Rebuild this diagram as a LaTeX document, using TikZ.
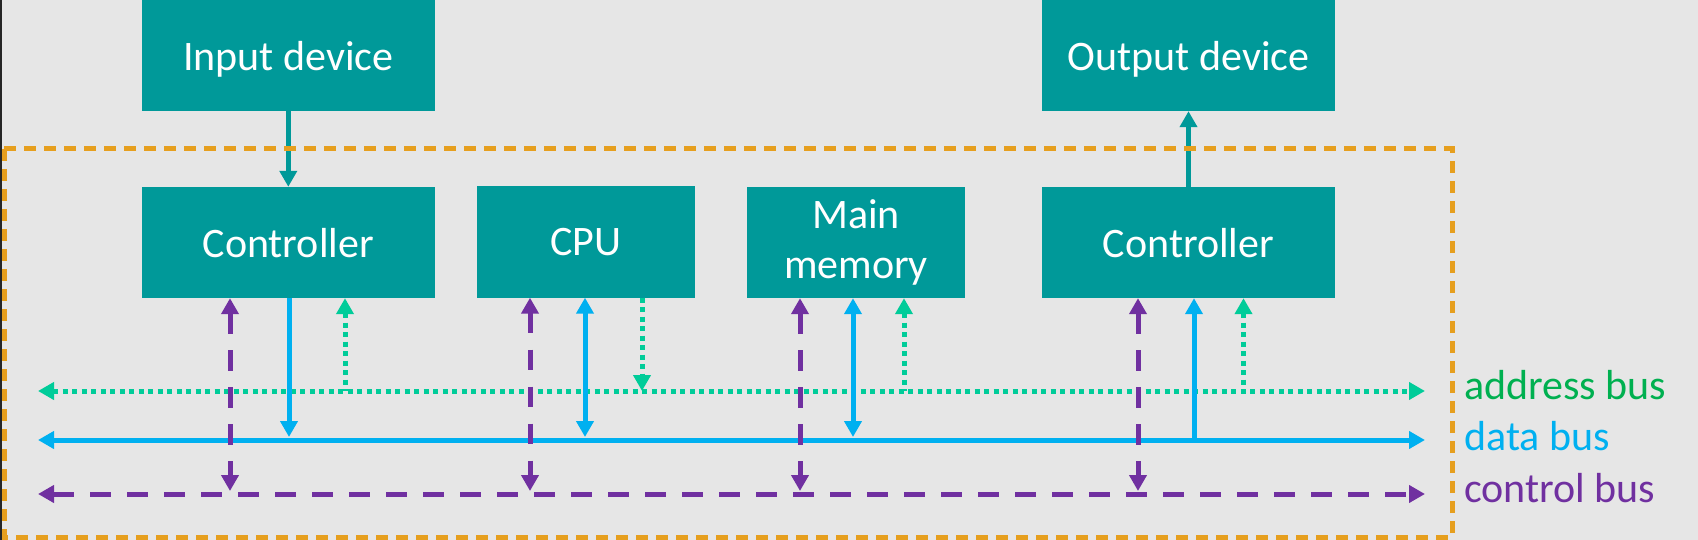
\documentclass[tikz,border=0pt]{standalone}
\usepackage{fontspec}
\setmainfont{Carlito}
\usetikzlibrary{arrows.meta}
\definecolor{boxteal}{RGB}{0,153,153}
\definecolor{backgray}{RGB}{230,230,230}
\definecolor{frameorange}{RGB}{230,159,30}
\definecolor{addrgreen}{RGB}{0,204,153}
\definecolor{addrtext}{RGB}{0,176,80}
\definecolor{datablue}{RGB}{0,176,240}
\definecolor{ctrlpurple}{RGB}{112,48,160}
\begin{document}
\begin{tikzpicture}[x=1pt,y=-1pt,>={Triangle[length=16pt,width=17pt]},
    unit/.style={fill=boxteal,text=white,inner sep=0pt,align=center,
      minimum height=111pt,font=\fontsize{42}{50}\selectfont},
    wide/.style={unit,minimum width=293.5pt,text depth=0pt},
    narrow/.style={unit,minimum width=218pt},
    link/.style={draw=boxteal,line width=5pt,->},
    abus/.style={draw=addrgreen,line width=5pt,dash pattern=on 5pt off 4.5pt},
    dbus/.style={draw=datablue,line width=5pt},
    cbus/.style={draw=ctrlpurple,line width=5pt,dash pattern=on 20.5pt off 16.5pt},
    frame/.style={draw=frameorange,line width=5pt,dash pattern=on 12pt off 8pt},
    buslabel/.style={anchor=base west,inner sep=0pt,font=\fontsize{42}{50}\selectfont}]
  \useasboundingbox (0,0) rectangle (1698,540);
  \fill[backgray] (0,0) rectangle (1698,540);
  \draw[line width=1.5pt,black!85] (0.75,0) -- (0.75,540);

  \draw
    (288.3,55.5) node[wide] (in){Input device}
    (288.3,242.5) node[wide] (ctlA){Controller}
    (586,242) node[narrow] (cpu){CPU}
    (856,242.5) node[narrow] (mem){Main\\memory}
    (1188.5,242.5) node[wide] (ctlB){Controller}
    (1188.5,55.5) node[wide] (out){Output device};

  % the three buses
  \coordinate (addrW) at (38,391);
  \coordinate (addrE) at (1425,391);
  \coordinate (dataW) at (38,440);
  \coordinate (dataE) at (1425,440);
  \coordinate (ctrlW) at (38,494);
  \coordinate (ctrlE) at (1425,494);
  \draw[abus,<->] (addrW) -- (addrE);
  \draw[dbus,<->] (dataW) -- (dataE);
  \draw[cbus,<->] (ctrlW) -- (ctrlE);
  \node[buslabel,text=addrtext] (addrlbl) at (1464,399) {address bus};
  \node[buslabel,text=datablue] (datalbl) at (1464,450) {data bus};
  \node[buslabel,text=ctrlpurple] (ctrllbl) at (1464,502) {control bus};

  \begin{scope}[shorten >=3pt]
    \draw[cbus,<->] (230,0 |- ctlA.south) -- (230,0 |- ctrlW);
    \draw[dbus,->] (289,0 |- ctlA.south) -- (289,0 |- dataW);
    \draw[cbus,<->] (530,0 |- cpu.south) -- (530,0 |- ctrlW);
    \draw[dbus,<->] (585,0 |- cpu.south) -- (585,0 |- dataW);
    \draw[cbus,<->] (800,0 |- mem.south) -- (800,0 |- ctrlW);
    \draw[dbus,<->] (853,0 |- mem.south) -- (853,0 |- dataW);
    \draw[cbus,<->] (1138,0 |- ctlB.south) -- (1138,0 |- ctrlW);
  \end{scope}
  \draw[dbus,<-] (1194,0 |- ctlB.south) -- (1194,0 |- dataW);
  \draw[abus,<-] (345,0 |- ctlA.south) -- (345,0 |- addrW);
  \draw[abus,->] (642,0 |- cpu.south) -- (642,0 |- addrW);
  \draw[abus,<-] (904,0 |- mem.south) -- (904,0 |- addrW);
  \draw[abus,<-] (1243.5,0 |- ctlB.south) -- (1243.5,0 |- addrW);

  \draw[link] (in) -- (ctlA);
  \draw[link] (ctlB) -- (out);
  \draw[frame] (4,149) rectangle (1452,537);
\end{tikzpicture}
\end{document}
